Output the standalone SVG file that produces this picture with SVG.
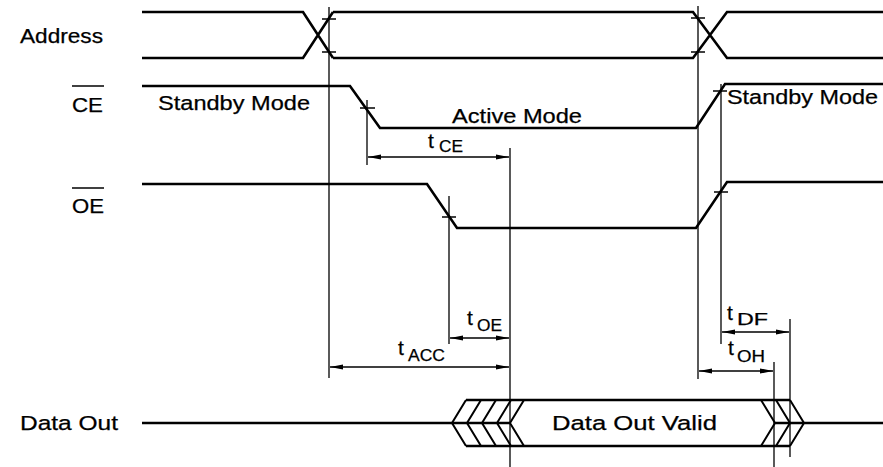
<svg xmlns="http://www.w3.org/2000/svg" width="883" height="467" viewBox="0 0 883 467">
<defs>
<style>
.sig{stroke:#000;stroke-width:2.6;fill:none;stroke-linejoin:miter}
.hat{stroke:#000;stroke-width:2;fill:none}
.thin{stroke:#000;stroke-width:1.3;fill:none}
.tick{stroke:#000;stroke-width:1.5}
.arr{stroke:#000;stroke-width:1.3;fill:none;marker-start:url(#ah);marker-end:url(#ah)}
.lbl{font-family:"Liberation Sans",Arial,Helvetica,sans-serif;font-size:20.5px;fill:#000;stroke:#000;stroke-width:0.25}
.sub{font-size:16px}
.t{font-size:21px}
</style>
<marker id="ah" viewBox="0 0 13 6" refX="13" refY="3" markerWidth="13" markerHeight="6" markerUnits="userSpaceOnUse" orient="auto-start-reverse">
<path d="M0,0.4 L13,3 L0,5.6 z" fill="#000"/>
</marker>
</defs>
<rect width="883" height="467" fill="#fff"/>

<g id="labels">
<text class="lbl" x="20" y="43" textLength="83" lengthAdjust="spacingAndGlyphs">Address</text>
<text class="lbl" x="72" y="112" textLength="31" lengthAdjust="spacingAndGlyphs">CE</text>
<line class="tick" x1="72" y1="86" x2="104" y2="86"/>
<text class="lbl" x="72" y="213" textLength="32" lengthAdjust="spacingAndGlyphs">OE</text>
<line class="tick" x1="72" y1="188" x2="104" y2="188"/>
<text class="lbl" x="20" y="430" textLength="98" lengthAdjust="spacingAndGlyphs">Data Out</text>
</g>

<g id="address">
<path class="sig" d="M142,12 H303 L333,58 M142,58 H303 L333,12 M333,12 H693 L727,58 H883 M333,58 H693 L727,12 H883"/>
<line class="tick" x1="322" y1="19" x2="336" y2="19"/>
<line class="tick" x1="322" y1="52" x2="336" y2="52"/>
<line class="tick" x1="691" y1="18" x2="705" y2="18"/>
<line class="tick" x1="691" y1="52" x2="705" y2="52"/>
</g>

<g id="ce">
<path class="sig" d="M142,86 H350 L380,128 H696 L725,84 H883"/>
<line class="tick" x1="360" y1="108" x2="375" y2="108"/>
<line class="tick" x1="713" y1="91" x2="727" y2="91"/>
<text class="lbl" x="158" y="110" textLength="152" lengthAdjust="spacingAndGlyphs">Standby Mode</text>
<text class="lbl" x="452" y="123" textLength="130" lengthAdjust="spacingAndGlyphs">Active Mode</text>
<text class="lbl" x="727" y="104" textLength="151" lengthAdjust="spacingAndGlyphs">Standby Mode</text>
</g>

<g id="oe">
<path class="sig" d="M142,184 H427 L457,228 H696 L727,182 H883"/>
<line class="tick" x1="442" y1="217" x2="456" y2="217"/>
<line class="tick" x1="714" y1="192" x2="728" y2="192"/>
</g>

<g id="dataout">
<path class="sig" d="M142,423 H511 M466,400 H790 M466,446 H790 M775,423 H883"/>
<path class="hat" d="M466,400 L452,423 L466,446 M481,400 L467,423 L481,446 M496,400 L482,423 L496,446 M511,400 L497,423 L511,446 M524,400 L510,423 L524,446 M761,400 L775,423 L761,446 M776,400 L790,423 L776,446 M790,400 L804,423 L790,446"/>
<text class="lbl" x="552" y="430" textLength="165" lengthAdjust="spacingAndGlyphs">Data Out Valid</text>
</g>

<g id="connectors">
<line class="thin" x1="329" y1="7" x2="329" y2="378"/>
<line class="thin" x1="367" y1="100" x2="367" y2="165"/>
<line class="thin" x1="449" y1="196" x2="449" y2="344"/>
<line class="thin" x1="510" y1="148" x2="510" y2="467"/>
<line class="thin" x1="698" y1="6" x2="698" y2="379"/>
<line class="thin" x1="721" y1="84" x2="721" y2="344"/>
<line class="thin" x1="774" y1="362" x2="774" y2="467"/>
<line class="thin" x1="790" y1="319" x2="790" y2="457"/>

<line class="arr" x1="368" y1="157" x2="509" y2="157"/>
<line class="arr" x1="450" y1="338" x2="509" y2="338"/>
<line class="arr" x1="330" y1="367" x2="509" y2="367"/>
<line class="arr" x1="722" y1="332" x2="789" y2="332"/>
<line class="arr" x1="699" y1="371" x2="773" y2="371"/>

<text class="lbl t" x="428" y="148">t</text>
<text class="lbl sub" x="439" y="152" textLength="24" lengthAdjust="spacingAndGlyphs">CE</text>
<text class="lbl t" x="467" y="325">t</text>
<text class="lbl sub" x="477" y="331" textLength="25" lengthAdjust="spacingAndGlyphs">OE</text>
<text class="lbl t" x="398" y="355">t</text>
<text class="lbl sub" x="408" y="361" textLength="37" lengthAdjust="spacingAndGlyphs">ACC</text>
<text class="lbl t" x="727" y="320">t</text>
<text class="lbl sub" x="737" y="325" textLength="31" lengthAdjust="spacingAndGlyphs">DF</text>
<text class="lbl t" x="728" y="355">t</text>
<text class="lbl sub" x="737" y="362" textLength="28" lengthAdjust="spacingAndGlyphs">OH</text>
</g>
</svg>
